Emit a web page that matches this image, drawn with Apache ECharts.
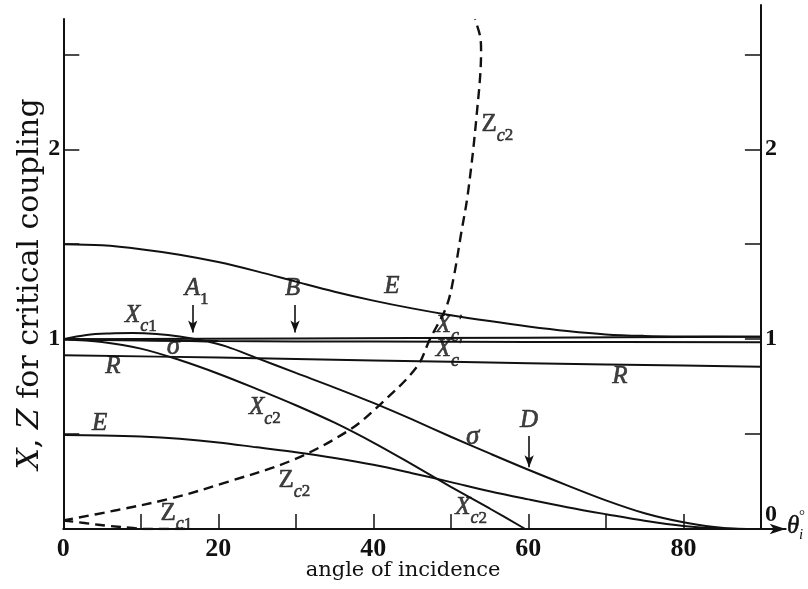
<!DOCTYPE html>
<html>
<head>
<meta charset="utf-8">
<script src="https://cdn.jsdelivr.net/npm/echarts@6/dist/echarts.min.js"></script>
<style>
  html, body { margin: 0; padding: 0; background: #fff; }
  #chart { width: 808px; height: 589px; }
</style>
</head>
<body>
<div id="chart"></div>
<script>
// Critical-coupling parameters X and Z against the angle of incidence (degrees).
const eUpper = [[0,1.5],[5,1.494],[10,1.474],[15,1.445],[20,1.406],[25,1.357],[30,1.303],[35,1.25],[40,1.203],[45,1.162],[50,1.126],[55,1.095],[60,1.067],[65,1.043],[70,1.025],[75,1.017],[80,1.014],[90,1.013]];
const eLower = [[0,0.495],[5,0.493],[10,0.487],[15,0.475],[20,0.456],[25,0.43],[30,0.404],[35,0.374],[40,0.338],[45,0.294],[50,0.247],[55,0.199],[60,0.156],[65,0.115],[70,0.078],[75,0.043],[80,0.016],[85,0.003],[90,0]];
const xc1 = [[0,1.0],[3,1.022],[6,1.03],[9,1.032],[12,1.027],[15,1.014],[18,0.993],[21,0.962],[25,0.9],[30,0.822],[35,0.745],[40,0.664],[45,0.577],[50,0.486],[55,0.398],[60,0.312],[65,0.23],[70,0.151],[75,0.083],[80,0.035],[84,0.01],[87,0.001],[90,0]];
const sigma = [[0,1.0],[5,0.996],[10,0.993],[15,0.991],[18.5,0.988]];
const xc2 = [[0,1.0],[5,0.985],[10,0.95],[15,0.89],[20,0.818],[25,0.737],[30,0.652],[35,0.56],[40,0.455],[45,0.34],[50,0.222],[55,0.108],[59.6,0]];
const rCurve = [[0,0.915],[20,0.903],[40,0.888],[60,0.873],[80,0.861],[90,0.854]];
const xcPrimeUpper = [[0,1.0],[30,1.003],[60,1.008],[90,1.012]];
const xcPrimeLower = [[0,1.0],[10,0.995],[20,0.99],[40,0.987],[60,0.985],[90,0.984]];
const zc1 = [[0,0.045],[3,0.03],[6,0.016],[9,0.005],[10.5,0],[16,0]];
const zc2 = [[0,0.045],[7,0.1],[14.1,0.163],[21.1,0.247],[29.6,0.363],[36.9,0.521],[40.8,0.653],[45.6,0.853],[47.3,1.0],[49.4,1.168],[50.3,1.311],[51.3,1.55],[52.2,1.768],[53.3,2.168],[53.9,2.52],[53.75,2.6],[53.1,2.685]];

// Axis ticks and labels
const xTicks = [10,20,30,40,50,60,70,80];
const xTickLabels = [0,20,40,60,80];
const yTicks = [0.5,1,1.5,2,2.5];
const yLeftLabels = [1,2];
const yRightLabels = [0,1,2];

// Curve names written beside the curves: [rich text, angle, value]
const curveLabels = [
  ['{r|Z}{s|c}{n|2}', 56.0, 2.11],
  ['{v|A}{n|1}', 17.2, 1.25],
  ['{v|B}', 29.6, 1.25],
  ['{v|E}', 42.4, 1.26],
  ['{v|X}{s|c}{p|′}', 49.8, 1.055],
  ['{v|X}{s|c}{p|′}', 49.8, 0.925],
  ['{v|R}', 71.8, 0.784],
  ['{v|X}{s|c}{n|1}', 10.0, 1.105],
  ['{g|σ}', 14.2, 0.96],
  ['{v|R}', 6.4, 0.837],
  ['{v|X}{s|c}{n|2}', 26.0, 0.62],
  ['{v|E}', 4.7, 0.538],
  ['{g|σ}', 52.8, 0.486],
  ['{v|D}', 60.1, 0.556],
  ['{r|Z}{s|c}{n|2}', 29.8, 0.235],
  ['{v|X}{s|c}{n|2}', 52.6, 0.095],
  ['{r|Z}{s|c}{n|1}', 14.6, 0.062]
];
// Marker arrows: [angle, from value, to value]
const arrowMarks = [[16.7,1.18,1.035],[29.9,1.18,1.035],[60.1,0.49,0.325]];

const X_MAX = 93.2;      // the x axis runs past 90° to carry its arrow
const RIGHT_AXIS_AT = 90;
const GRID = { left: 63.3, right: 22.3, top: 5, bottom: 60 };
const Y_MAX = 2.76;
const LEFT_AXIS_TOP = 2.69;

const SERIF = '"Liberation Serif", "DejaVu Serif", serif';
const TITLE_SERIF = '"DejaVu Serif", "Liberation Serif", serif';
const INK = '#111';

// thin outline in the ink colour gives the italic names a heavier print weight
const ink = { color: INK, textBorderColor: INK, textBorderWidth: 0.6 };
// base glyphs are lifted a little and subscripts dropped by padding inside the line box
const rich = {
  v: Object.assign({ fontFamily: SERIF, fontStyle: 'italic', fontSize: 25, lineHeight: 23, padding: [0,0,7,0] }, ink),
  r: Object.assign({ fontFamily: SERIF, fontSize: 25, lineHeight: 23, padding: [0,0,7,0] }, ink),
  g: Object.assign({ fontFamily: SERIF, fontStyle: 'italic', fontSize: 27, lineHeight: 23 }, ink),
  s: Object.assign({ fontFamily: SERIF, fontStyle: 'italic', fontSize: 18, lineHeight: 16, padding: [15,0,0,0] }, ink),
  n: Object.assign({ fontFamily: SERIF, fontSize: 17, lineHeight: 16, padding: [15,0,0,0] }, ink),
  p: Object.assign({ fontFamily: SERIF, fontSize: 17, lineHeight: 16, padding: [0,0,15,0] }, ink)
};

function curve(name, data, dashed) {
  return {
    name, type: 'line', data, smooth: 0.35, symbol: 'none', silent: true,
    lineStyle: { color: INK, width: dashed ? 2.4 : 2, type: dashed ? [10, 6] : 'solid' },
    z: 3
  };
}

const chart = echarts.init(document.getElementById('chart'), null, { renderer: 'canvas' });
const gridWidth = 808 - GRID.left - GRID.right;
const rightAxisOffset = -gridWidth * (X_MAX - RIGHT_AXIS_AT) / X_MAX;
const tickFont = { fontFamily: SERIF, fontWeight: 'bold', color: INK };

chart.setOption({
  animation: false,
  backgroundColor: '#fff',
  grid: GRID,
  xAxis: {
    type: 'value', min: 0, max: X_MAX,
    splitLine: { show: false },
    axisLine: { show: true, symbol: ['none', 'arrow'], symbolSize: [8, 16], lineStyle: { color: INK, width: 2 } },
    axisTick: { show: true, inside: true, length: 15, customValues: xTicks, lineStyle: { color: INK, width: 1.5 } },
    axisLabel: Object.assign({ customValues: xTickLabels, fontSize: 26, margin: 7 }, tickFont)
  },
  yAxis: [
    {
      type: 'value', min: 0, max: Y_MAX, position: 'left',
      splitLine: { show: false },
      axisLine: { show: false },
      axisTick: { show: true, inside: true, length: 16, customValues: yTicks, lineStyle: { color: INK, width: 1.5 } },
      axisLabel: Object.assign({ customValues: yLeftLabels, fontSize: 24, margin: 3 }, tickFont)
    },
    {
      type: 'value', min: 0, max: Y_MAX, position: 'right', offset: rightAxisOffset,
      splitLine: { show: false },
      axisLine: { show: true, lineStyle: { color: INK, width: 2 } },
      axisTick: { show: true, inside: true, length: 16, customValues: yTicks, lineStyle: { color: INK, width: 1.5 } },
      axisLabel: Object.assign({
        customValues: yRightLabels, fontSize: 24, margin: 4,
        formatter: v => v === 0 ? '{z|0}' : '{a|' + v + '}',
        rich: {
          z: Object.assign({ fontSize: 24, padding: [0, 0, 28, 0] }, tickFont),
          a: Object.assign({ fontSize: 24 }, tickFont)
        }
      }, tickFont)
    }
  ],
  series: [
    curve('E', eUpper),
    curve('E (lower)', eLower),
    curve('Xc1', xc1),
    curve('sigma', sigma),
    curve('Xc2', xc2),
    curve('R', rCurve),
    curve("Xc' upper", xcPrimeUpper),
    curve("Xc' lower", xcPrimeLower),
    curve('Zc1', zc1, true),
    curve('Zc2', zc2, true),
    {
      name: 'labels', type: 'scatter', symbolSize: 0, silent: true, z: 5,
      data: curveLabels.map(l => [l[1], l[2]]),
      label: {
        show: true, position: 'inside', color: INK, textShadowBlur: 0,
        formatter: p => curveLabels[p.dataIndex][0], rich
      },
      markLine: {
        silent: true, animation: false,
        label: { show: false },
        lineStyle: { color: INK, width: 1.6, type: 'solid' },
        data: arrowMarks.map(a => [
          { coord: [a[0], a[1]], symbol: 'none' },
          { coord: [a[0], a[2]], symbol: 'arrow', symbolSize: [7, 12] }
        ]).concat([[
          { coord: [0, 0], symbol: 'none' },
          { coord: [0, LEFT_AXIS_TOP], symbol: 'none', lineStyle: { width: 2 } }
        ]])
      }
    }
  ],
  graphic: [
    {
      type: 'text', x: 30, y: 284, rotation: Math.PI / 2,
      style: {
        text: '{i|X}, {i|Z} for critical coupling',
        align: 'center', verticalAlign: 'middle',
        font: '30px ' + TITLE_SERIF, fill: INK,
        rich: { i: { fontFamily: TITLE_SERIF, fontStyle: 'italic', fontSize: 30, fill: INK } }
      }
    },
    {
      type: 'text', x: 403, y: 571,
      style: { text: 'angle of incidence', align: 'center', verticalAlign: 'middle', font: '21px ' + TITLE_SERIF, fill: INK }
    },
    // axis symbol θ with subscript i and degree sign stacked after it
    { type: 'text', x: 787, y: 526, style: { text: 'θ', align: 'left', verticalAlign: 'middle', font: 'italic 25px ' + SERIF, fill: INK, stroke: INK, lineWidth: 0.5 } },
    { type: 'text', x: 799, y: 516, style: { text: '°', align: 'left', verticalAlign: 'middle', font: '15px ' + SERIF, fill: INK } },
    { type: 'text', x: 799, y: 535, style: { text: 'i', align: 'left', verticalAlign: 'middle', font: 'italic 15px ' + SERIF, fill: INK } }
  ]
});
</script>
</body>
</html>
